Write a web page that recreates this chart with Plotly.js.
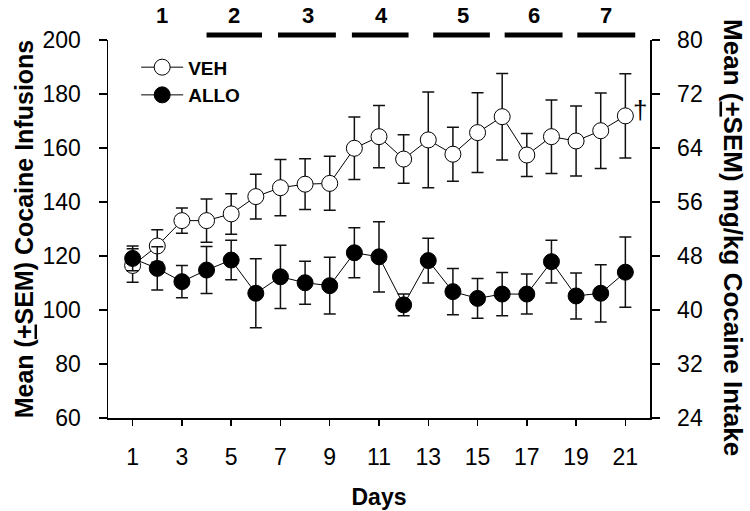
<!DOCTYPE html>
<html>
<head>
<meta charset="utf-8">
<script src="https://cdn.plot.ly/plotly-3.0.1.min.js"></script>
<style>html,body{margin:0;padding:0;background:#fff;}#chart{width:750px;height:511px;}</style>
</head>
<body>
<div id="chart"></div>
<script>
const days = [1,2,3,4,5,6,7,8,9,10,11,12,13,14,15,16,17,18,19,20,21];
const vehMean = [116.5,123.7,133.1,133.1,135.6,142.0,145.3,146.6,146.9,159.9,164.2,155.9,163.0,157.7,165.7,171.6,157.4,164.2,162.6,166.4,171.9];
const vehSem  = [6.2,6.0,4.7,8.0,7.5,8.3,10.4,9.4,10.0,11.6,11.5,9.0,17.7,10.0,14.8,16.0,8.0,13.6,13.0,14.0,15.6];
const alloMean = [119.1,115.4,110.5,114.8,118.5,106.2,112.3,110.1,109.0,121.2,119.7,101.9,118.3,106.8,104.3,105.9,105.9,117.9,105.2,106.2,114.0];
const alloSem  = [4.6,8.0,6.0,8.7,7.3,12.8,11.7,8.0,10.5,9.3,13.0,4.0,8.3,8.6,7.4,8.0,7.4,7.9,8.5,10.6,13.0];
const xTicks = [1,3,5,7,9,11,13,15,17,19,21];
const leftTicks = [60,80,100,120,140,160,180,200];
const rightTicks = [24,32,40,48,56,64,72,80];
const phaseLabels = ['1','2','3','4','5','6','7'];
const phaseLabelDay = [2.2,5.1,8.1,11.1,14.4,17.3,20.2];
const phaseStart = [null,4.0,6.9,9.9,13.2,16.1,19.05];
const phaseEnd   = [null,6.25,9.25,12.2,15.5,18.45,21.4];
const daggerDay = 21, daggerText = '†';
const rightTitle = '<b>Mean (<u>+</u>SEM) mg/kg Cocaine Intake</b>';
const leftTitle = '<b>Mean (<u>+</u>SEM) Cocaine Infusions</b>';

const FONT = 'Liberation Sans, Arial, Helvetica, sans-serif';

const traces = [
  {x: days, y: vehMean, name: 'VEH', type: 'scatter', mode: 'lines+markers',
   line: {color: '#000', width: 1},
   marker: {symbol: 'circle', size: 16, color: '#fff', line: {color: '#000', width: 1}},
   error_y: {type: 'data', array: vehSem, visible: true, color: '#111', thickness: 1.5, width: 6}},
  {x: days, y: alloMean, name: 'ALLO', type: 'scatter', mode: 'lines+markers',
   line: {color: '#000', width: 1},
   marker: {symbol: 'circle', size: 16, color: '#000', line: {color: '#000', width: 1}},
   error_y: {type: 'data', array: alloSem, visible: true, color: '#111', thickness: 1.5, width: 6}},
  {x: [], y: [], yaxis: 'y2', type: 'scatter', mode: 'markers', showlegend: false, hoverinfo: 'skip'}
];

const shapes = [];
const annotations = [];
phaseLabels.forEach((p, i) => {
  annotations.push({x: phaseLabelDay[i], y: 1.0635, xref: 'x', yref: 'paper', text: '<b>' + p + '</b>',
    showarrow: false, font: {family: FONT, size: 22, color: '#000'}, xanchor: 'center', yanchor: 'middle'});
  if (phaseStart[i] !== null) {
    shapes.push({type: 'line', xref: 'x', yref: 'paper', x0: phaseStart[i], x1: phaseEnd[i], y0: 1.013, y1: 1.013,
      line: {color: '#000', width: 5}});
  }
});
annotations.push({x: daggerDay, y: vehMean[vehMean.length-1], xref: 'x', yref: 'y', text: daggerText,
  showarrow: false, xshift: 15, yshift: 6, font: {family: FONT, size: 26, color: '#000'}});
annotations.push({x: 1.1531, y: 0.476, xref: 'paper', yref: 'paper', text: rightTitle, textangle: 90,
  showarrow: false, xanchor: 'center', yanchor: 'middle', font: {family: FONT, size: 26, color: '#000'}});

const layout = {
  width: 750, height: 511,
  margin: {l: 108, r: 100, t: 40, b: 93, pad: 0},
  paper_bgcolor: '#fff', plot_bgcolor: '#fff',
  font: {family: FONT, color: '#000', size: 22},
  showlegend: true,
  legend: {x: 0.052, y: 0.978, xanchor: 'left', yanchor: 'top', bgcolor: 'rgba(0,0,0,0)',
    font: {family: FONT, size: 19, color: '#000', weight: 'bold'}, tracegroupgap: 0, itemwidth: 42},
  xaxis: {range: [0, 22], tickvals: xTicks, ticktext: xTicks.map(String), showgrid: false, zeroline: false,
    showline: true, linecolor: '#000', linewidth: 1.5, ticks: 'outside', ticklen: 6, tickwidth: 1.5, tickcolor: '#000',
    tickfont: {family: FONT, size: 23}, ticklabelstandoff: 12,
    title: {text: '<b>Days</b>', font: {family: FONT, size: 23}, standoff: 20}},
  yaxis: {range: [60, 200], tickvals: leftTicks, showgrid: false, zeroline: false,
    showline: true, linecolor: '#000', linewidth: 1.5, ticks: 'outside', ticklen: 8, tickwidth: 1.5, tickcolor: '#000',
    tickfont: {family: FONT, size: 23}, ticklabelstandoff: 13,
    title: {text: leftTitle, font: {family: FONT, size: 25}, standoff: 2}},
  yaxis2: {range: [24, 80], tickvals: rightTicks, overlaying: 'y', side: 'right', anchor: 'x', showgrid: false, zeroline: false,
    showline: true, linecolor: '#000', linewidth: 1.5, ticks: 'outside', ticklen: 8, tickwidth: 1.5, tickcolor: '#000',
    tickfont: {family: FONT, size: 23}, ticklabelstandoff: 13},
  shapes: shapes,
  annotations: annotations
};

Plotly.newPlot('chart', traces, layout, {displayModeBar: false, staticPlot: true});
</script>
</body>
</html>
